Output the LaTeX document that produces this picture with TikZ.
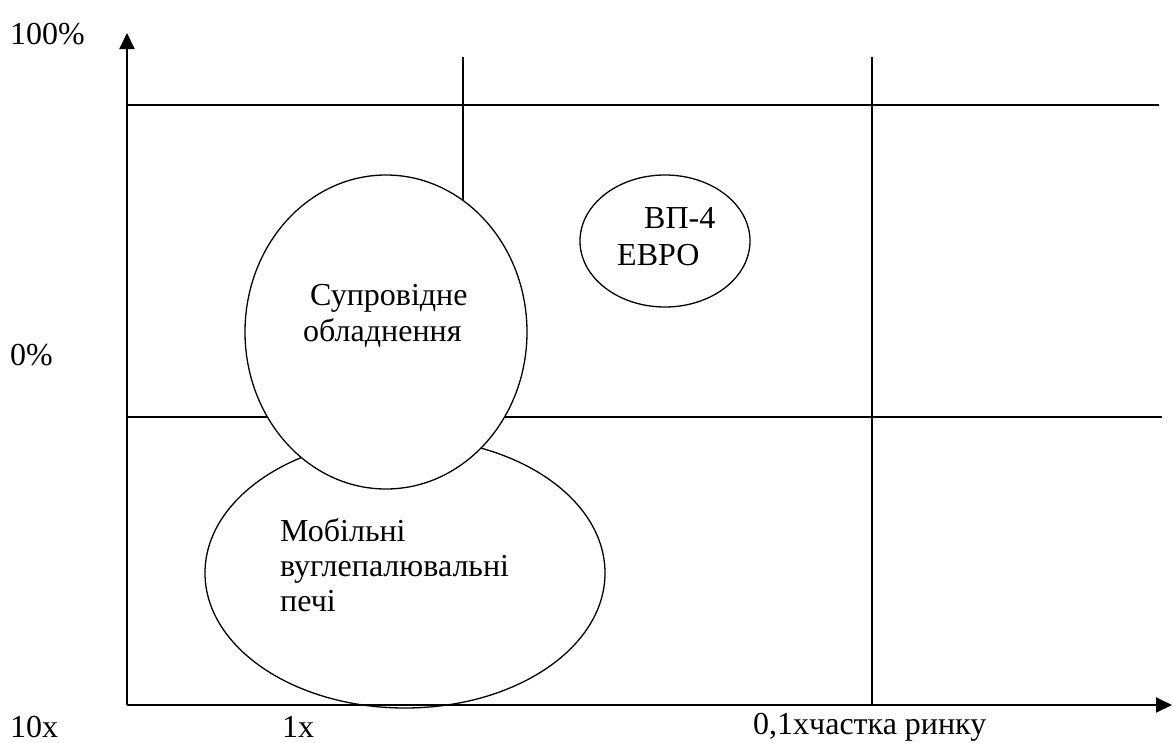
\documentclass[tikz,border=0pt]{standalone}
\usepackage{fontspec}
\setmainfont{Liberation Serif}
\usetikzlibrary{arrows.meta,shapes.geometric}
\begin{document}
\begin{tikzpicture}[x=1pt,y=-1pt,
  lbl/.style={anchor=base west,inner sep=0pt,font=\fontsize{32}{37}\selectfont},
  gridline/.style={line width=1.5pt},
  axisline/.style={line width=2pt,-{Triangle[length=16pt,width=15pt]}},
  oval/.style={draw,ellipse,fill=white,line width=1.3pt,inner sep=0pt}]
\useasboundingbox (0,0) rectangle (1173,742);
% coordinates
\coordinate (O) at (127,705);
\coordinate (Ytop) at (127,33);
\coordinate (Xend) at (1172,705);
\coordinate (h1a) at (127,105); \coordinate (h1b) at (1159,105);
\coordinate (h2a) at (127,417); \coordinate (h2b) at (1162,417);
\coordinate (v1a) at (463,57);  \coordinate (v1b) at (463,260);
\coordinate (v2a) at (872,57);  \coordinate (v2b) at (872,705);
% grid
\draw[gridline] (h1a) -- (h1b);
\draw[gridline] (h2a) -- (h2b);
\draw[gridline] (v1a) -- (v1b);
\draw[gridline] (v2a) -- (v2b);
% ellipses
\node[oval,minimum width=400pt,minimum height=270pt] (mob) at (405,573) {};
\node[oval,minimum width=282pt,minimum height=314pt] (sup) at (386,332) {};
\node[oval,minimum width=170pt,minimum height=132pt] (vp) at (665,241) {};
% axes
\draw[axisline] (O) -- (Ytop);
\draw[axisline] (O) -- (Xend);
% texts
\node[lbl] (t100) at (10,44) {100\%};
\node[lbl] (t0) at (10,365) {0\%};
\node[lbl] (t10x) at (10,737) {10x};
\node[lbl] (t1x) at (282,737) {1x};
\node[lbl] (t01) at (753,734) {0,1xчастка ринку};
\node[lbl] (s1) at (310,305) {Супровідне};
\node[lbl] (s2) at (303,341) {обладнення};
\node[lbl] (m1) at (280,541) {Мобільні};
\node[lbl] (m2) at (280,576) {вуглепалювальні};
\node[lbl] (m3) at (280,611) {печі};
\node[lbl] (b1) at (644,228) {ВП-4};
\node[lbl] (b2) at (617,265) {ЕВРО};
\end{tikzpicture}
\end{document}
